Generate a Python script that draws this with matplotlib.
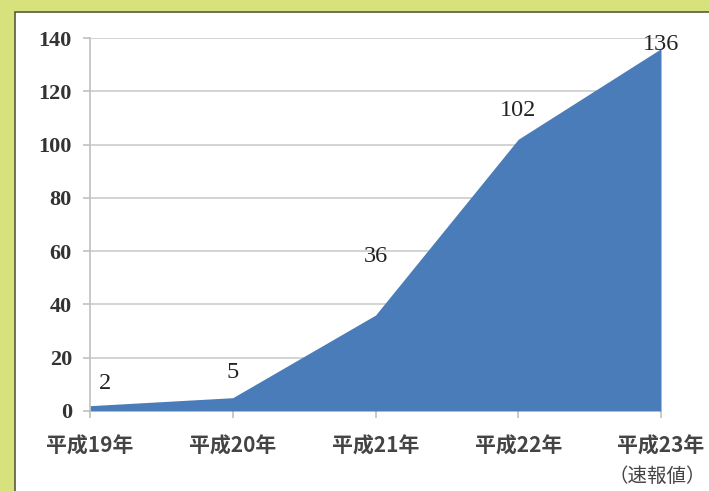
"""Area chart of yearly counts (平成19年 - 平成23年)."""

import matplotlib
matplotlib.use("Agg")
import matplotlib.pyplot as plt
import numpy as np

years = ["平成19年", "平成20年", "平成21年", "平成22年", "平成23年"]
last_note = "（速報値）"
counts = [2, 5, 36, 102, 136]
yticks = [0, 20, 40, 60, 80, 100, 120, 140]
# label offsets in points (dx, dy) from each data point
label_offsets = [(11, 16), (0, 18), (0, 42), (0, 21), (0, 3)]

plt.rcParams["font.family"] = ["Noto Sans CJK JP", "DejaVu Sans"]

fig = plt.figure(figsize=(7.09, 4.91), dpi=100)
fig.patch.set_facecolor("#d8e27c")

# white panel with a dark edge
panel = plt.Rectangle((15 / 709, -0.1), 1.0, 1 - 12 / 491 + 0.1,
                      transform=fig.transFigure, facecolor="white",
                      edgecolor="#5a5a3c", linewidth=1.2, zorder=0)
fig.patches.append(panel)

ax = fig.add_axes([90 / 709, 80 / 491, 571 / 709, 373 / 491])
ax.set_zorder(2)
ax.set_facecolor("none")

x = np.arange(len(years))
ax.fill_between(x, 0, counts, color="#4a7cba", linewidth=0, zorder=2)

ax.set_xlim(0, len(years) - 1)
ax.set_ylim(0, 140)
ax.set_yticks(yticks)
ax.set_yticklabels([str(v) for v in yticks], family="Liberation Serif",
                   fontsize=16, fontweight="bold", color="#333333")
ax.set_xticks(x)
ax.set_xticklabels(years, fontsize=15, fontweight="bold", color="#444444")

ax.yaxis.grid(True, color="#cccccc", linewidth=1.2, zorder=1)
ax.set_axisbelow(True)
for side in ["top", "right", "bottom"]:
    ax.spines[side].set_visible(False)
ax.spines["left"].set_color("#c0c0c0")
ax.spines["left"].set_linewidth(1.2)
ax.tick_params(axis="y", length=5, width=1.2, color="#c0c0c0", pad=8)
ax.tick_params(axis="x", length=5, width=1.2, color="#c0c0c0", pad=13)

ax.annotate(last_note, xy=(x[-1], 0), xytext=(-3, -47), textcoords="offset points",
            ha="center", va="center", fontsize=14, color="#444444",
            annotation_clip=False)

for xi, v, (dx, dy) in zip(x, counts, label_offsets):
    ax.annotate(str(v), xy=(xi, v), xytext=(dx, dy), textcoords="offset points",
                ha="center", va="center", family="Liberation Serif",
                fontsize=17.5, color="#222222", zorder=3, annotation_clip=False)

fig.savefig("out.png", dpi=100)
